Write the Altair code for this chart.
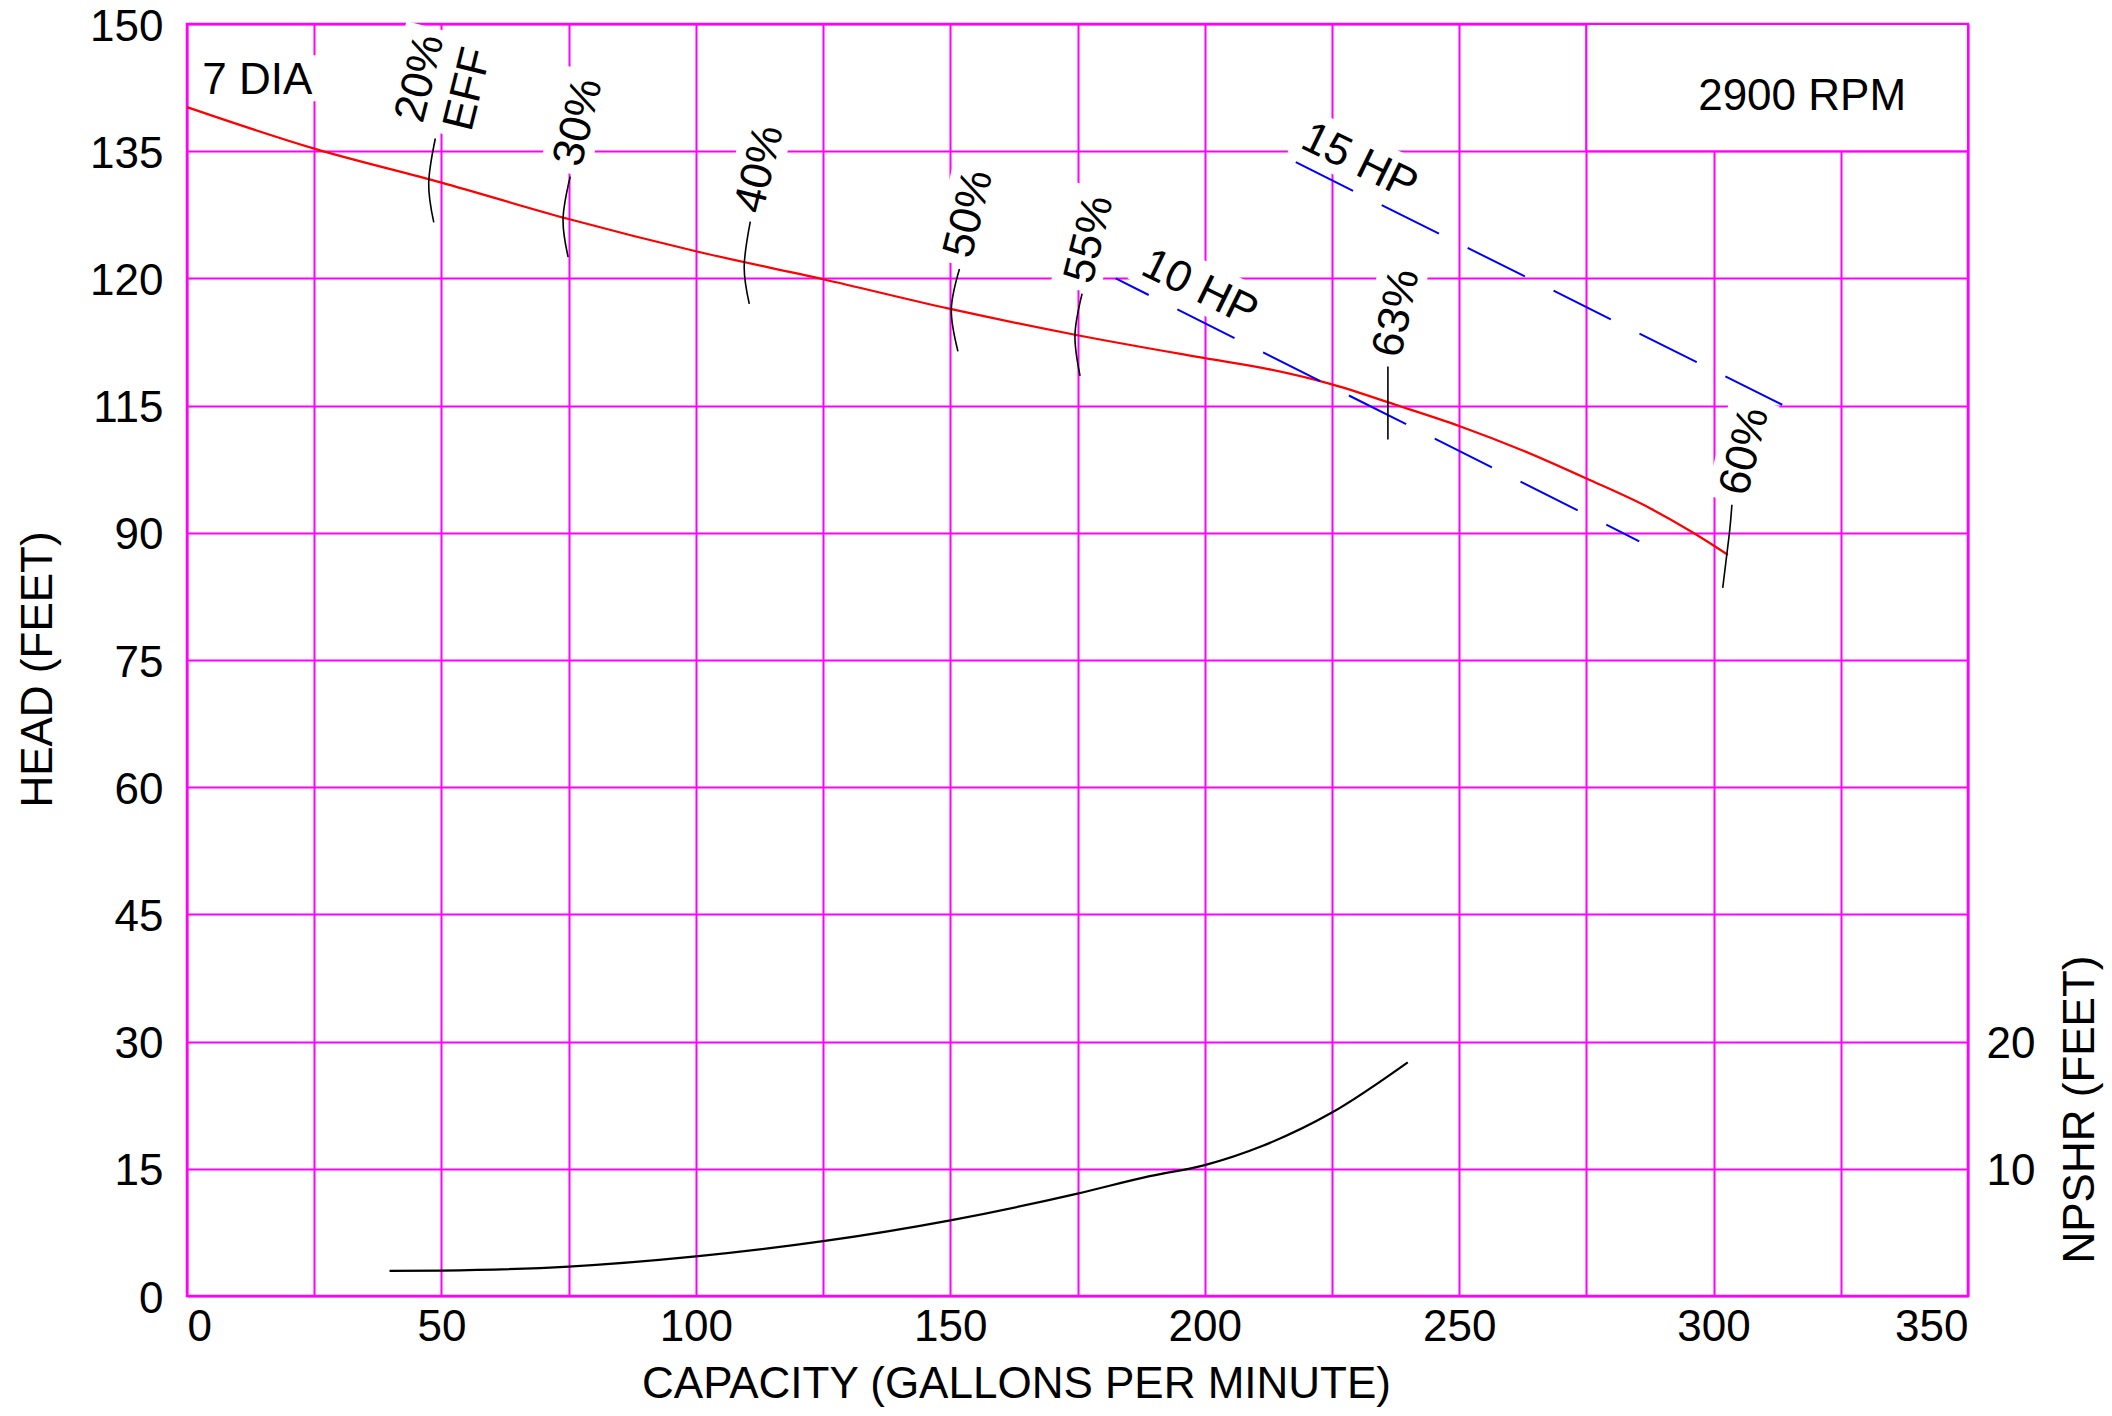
import altair as alt
import pandas as pd

# ---------------- data ----------------
# Head / capacity curve (7 DIA impeller)
head_gpm = [0, 25, 50, 75, 100, 125, 150, 175, 200, 212.5, 225, 237.5, 250, 262.5, 275, 287.5, 296, 300, 302.8]
head_ft = [140.2, 135.3, 131.3, 127.0, 123.2, 119.9, 116.4, 113.3, 110.6, 109.3, 107.5, 105.1,
           102.6, 99.7, 96.4, 92.9, 90.0, 88.5, 87.4]

# NPSHR curve (right axis units)
npshr_gpm = [39.8, 50, 75, 100, 125, 150, 175, 189.2, 200, 211.3, 225, 239.9]
npshr_ft = [1.97, 2.0, 2.31, 3.11, 4.31, 5.95, 8.05, 9.42, 10.29, 11.79, 14.42, 18.37]

# Horsepower lines (dashed blue)
hp10_gpm = [182.5, 285.4]
hp10_head = [120.0, 89.0]
hp15_gpm = [217.9, 313.5]
hp15_head = [133.7, 105.1]

# Efficiency arcs crossing the head curve
eff_arc_id = ["20", "20", "20", "30", "30", "30", "40", "40", "40", "50", "50", "50",
              "55", "55", "55", "63", "63", "60", "60", "60"]
eff_arc_gpm = [48.8, 47.5, 48.5, 75.3, 73.9, 74.9, 110.7, 109.5, 110.5, 151.8, 150.2, 151.5,
               175.9, 174.5, 175.5, 236.0, 236.0, 303.6, 303.1, 301.8]
eff_arc_head = [136.5, 131.2, 126.6, 132.0, 127.0, 122.5, 126.7, 121.4, 117.0, 121.1, 116.3, 111.4,
                118.2, 113.3, 108.5, 109.6, 101.0, 93.3, 89.9, 83.5]

# Rotated labels
rot_label_text = ["20%", "EFF", "30%", "40%", "50%", "55%", "63%", "60%", "10 HP", "15 HP"]
rot_label_gpm = [45.9, 55.3, 77.0, 112.6, 153.7, 177.4, 237.8, 306.2, 199.0, 230.4]
rot_label_head = [143.6, 142.3, 138.4, 132.9, 127.6, 124.6, 115.9, 99.6, 118.8, 133.7]
rot_label_angle = [284, 284, 284, 284, 284, 284, 282, 284, 26, 26]

# Plain notes
dia_text = ["7 DIA"]
dia_gpm = [3.0]
dia_head = [143.3]
rpm_text = ["2900 RPM"]
rpm_gpm = [317.4]
rpm_head = [141.4]

# Boxed region behind the RPM note
rpm_box_gpm = [275, 350]
rpm_box_head = [135, 150]

# Axis ticks
x_ticks = list(range(0, 351, 25))
y_ticks = list(range(0, 151, 15))
y_tick_labels = ["0", "15", "30", "45", "60", "75", "90", "115", "120", "135", "150"]
npshr_ticks = [10, 20]

# ---------------- styling ----------------
FONT = "Liberation Sans, Arial, Helvetica, sans-serif"
FS = 44
MAGENTA = "#FF00FF"
W, H = 1781, 1272

ADV = {"0": .556, "1": .556, "2": .556, "3": .556, "4": .556, "5": .556, "6": .556, "7": .556,
       "8": .556, "9": .556, "%": .889, " ": .278, "E": .667, "F": .611, "H": .722, "P": .667,
       "D": .722, "I": .278, "A": .667}


def text_w(s):
    return sum(ADV.get(c, .6) for c in s) * FS


def center_mask(s, h=50, pad=16, dy=-2.5):
    w = text_w(s) + pad
    return f"M{-w/2:.1f},{-h/2+dy:.1f}H{w/2:.1f}V{h/2+dy:.1f}H{-w/2:.1f}Z"


def left_mask(s, h=46, pad=6, dy=-2.5):
    w = text_w(s)
    return f"M{-pad},{-h/2+dy:.1f}H{w+pad:.1f}V{h/2+dy:.1f}H{-pad}Z"


xs = alt.Scale(domain=[0, 350], nice=False, zero=False)
ys = alt.Scale(domain=[0, 150], nice=False, zero=False)
ns = alt.Scale(domain=[0, 100], nice=False, zero=False)

y_expr = "datum.label"
for v, lab in zip(y_ticks, y_tick_labels):
    if lab != str(v):
        y_expr = f"datum.value == {v} ? '{lab}' : ({y_expr})"

x_axis = alt.Axis(values=x_ticks, labelExpr="datum.value % 50 == 0 ? datum.label : ''",
                  labelFlush=True, labelOverlap=False, grid=True, labelPadding=9,
                  title="CAPACITY (GALLONS PER MINUTE)", titleX=829, titleY=101,
                  titleBaseline="alphabetic", titleAlign="center")
y_axis = alt.Axis(values=y_ticks, labelExpr=y_expr, labelOverlap=False, grid=True, labelPadding=24,
                  labelBaseline="alphabetic", labelOffset=16,
                  title="HEAD (FEET)", titleAngle=270, titleX=-136, titleY=645,
                  titleBaseline="alphabetic", titleAlign="center")
n_axis = alt.Axis(orient="right", values=npshr_ticks, grid=False, labelPadding=18, labelOverlap=False,
                  labelBaseline="alphabetic", labelOffset=16,
                  title="NPSHR (FEET)", titleAngle=270, titleX=125, titleY=1085,
                  titleBaseline="alphabetic", titleAlign="center")

X = alt.X("gpm:Q", scale=xs, axis=x_axis)
Yh = alt.Y("head:Q", scale=ys, axis=y_axis)

# ---------------- frames ----------------
df_head = pd.DataFrame({"gpm": head_gpm, "head": head_ft})
df_npshr = pd.DataFrame({"gpm": npshr_gpm, "npshr": npshr_ft})
df_hp10 = pd.DataFrame({"gpm": hp10_gpm, "head": hp10_head})
df_hp15 = pd.DataFrame({"gpm": hp15_gpm, "head": hp15_head})
df_arcs = pd.DataFrame({"id": eff_arc_id, "gpm": eff_arc_gpm, "head": eff_arc_head,
                        "seq": list(range(len(eff_arc_id)))})
df_rot = pd.DataFrame({"txt": rot_label_text, "gpm": rot_label_gpm, "head": rot_label_head,
                       "ang": rot_label_angle})
df_masks = pd.DataFrame({
    "gpm": rot_label_gpm + dia_gpm,
    "head": rot_label_head + dia_head,
    "ang": rot_label_angle + [0],
    "mpath": [center_mask(t) for t in rot_label_text] + [left_mask(t) for t in dia_text],
})
df_dia = pd.DataFrame({"txt": dia_text, "gpm": dia_gpm, "head": dia_head})
df_rpm = pd.DataFrame({"txt": rpm_text, "gpm": rpm_gpm, "head": rpm_head})
df_box = pd.DataFrame({"gpm": [rpm_box_gpm[0]], "gpm2": [rpm_box_gpm[1]],
                       "head": [rpm_box_head[0]], "head2": [rpm_box_head[1]]})

# ---------------- layers ----------------
box = alt.Chart(df_box).mark_rect(fill="white", stroke=MAGENTA, strokeWidth=2).encode(
    x=X, x2="gpm2:Q", y=Yh, y2="head2:Q")

masks = alt.Chart(df_masks).mark_point(filled=True, color="white", opacity=1, strokeWidth=0).encode(
    x=X, y=Yh,
    shape=alt.Shape("mpath:N", scale=None),
    angle=alt.Angle("ang:Q", scale=None),
    size=alt.value(4))

red = alt.Chart(df_head).mark_line(color="#FF0000", strokeWidth=2.2, interpolate="monotone").encode(
    x=X, y=Yh)

hp10 = alt.Chart(df_hp10).mark_line(color="#0000FF", strokeWidth=2, strokeDash=[64, 32],
                                    strokeDashOffset=27).encode(x=X, y=Yh)
hp15 = alt.Chart(df_hp15).mark_line(color="#0000FF", strokeWidth=2, strokeDash=[64, 32]).encode(
    x=X, y=Yh)

arcs = alt.Chart(df_arcs).mark_line(color="black", strokeWidth=1.6, interpolate="natural").encode(
    x=X, y=Yh, detail="id:N", order="seq:Q")

rot_text = alt.Chart(df_rot).mark_text(font=FONT, fontSize=FS, color="black", align="center",
                                       baseline="middle").encode(
    x=X, y=Yh, text="txt:N", angle=alt.Angle("ang:Q", scale=None))

dia = alt.Chart(df_dia).mark_text(font=FONT, fontSize=FS, color="black", align="left",
                                  baseline="middle").encode(x=X, y=Yh, text="txt:N")
rpm = alt.Chart(df_rpm).mark_text(font=FONT, fontSize=FS, color="black", align="center",
                                  baseline="middle").encode(x=X, y=Yh, text="txt:N")

npshr = alt.Chart(df_npshr).mark_line(color="black", strokeWidth=2.2, interpolate="monotone").encode(
    x=X, y=alt.Y("npshr:Q", scale=ns, axis=n_axis))

head_group = alt.layer(box, masks, red, hp10, hp15, arcs, rot_text, dia, rpm)

chart = (
    alt.layer(head_group, npshr)
    .resolve_scale(y="independent")
    .properties(width=W, height=H,
                autosize=alt.AutoSizeParams(type="none"),
                padding={"left": 179, "top": 16, "right": 136, "bottom": 112},
                background="white")
    .configure_view(stroke=MAGENTA, strokeWidth=2.5)
    .configure_axis(labelFont=FONT, titleFont=FONT, labelFontSize=FS, titleFontSize=FS,
                    titleFontWeight="normal", labelColor="black", titleColor="black",
                    gridColor=MAGENTA, gridWidth=2, gridOpacity=1, domain=False,
                    ticks=False, tickSize=0)
)

chart.save("out.html", embed_options={"renderer": "svg", "actions": False})
